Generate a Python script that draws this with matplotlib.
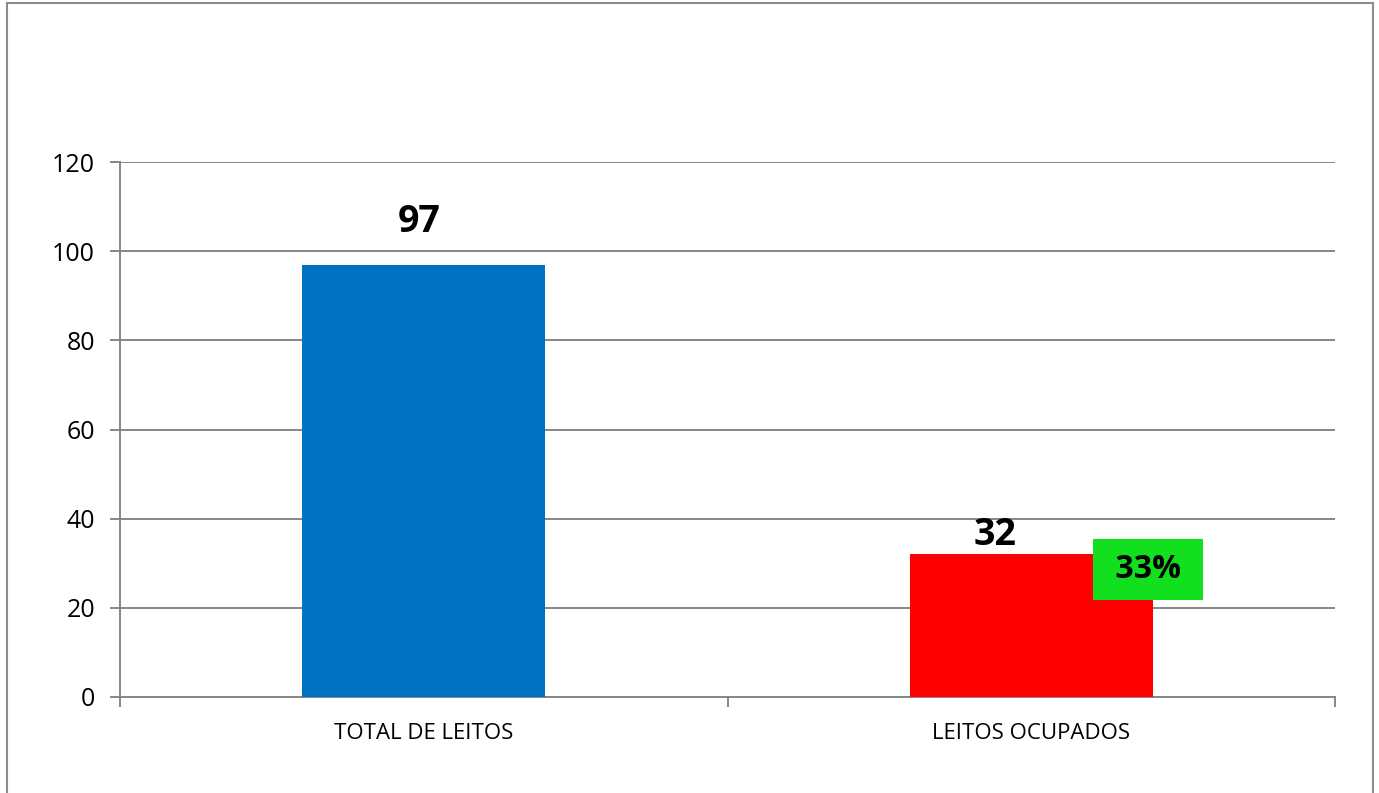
import matplotlib
matplotlib.use("Agg")
import matplotlib.pyplot as plt
from matplotlib.patches import Rectangle

# data
categories = ["TOTAL DE LEITOS", "LEITOS OCUPADOS"]
values = [97, 32]
bar_colors = ["#0070C0", "#FF0000"]
pct_label = "33%"
y_ticks = [0, 20, 40, 60, 80, 100, 120]

plt.rcParams["font.family"] = ["Open Sans", "DejaVu Sans"]

W, H = 1379, 793
fig = plt.figure(figsize=(W / 100, H / 100), dpi=100)
ax = fig.add_axes([120 / W, 1 - 697 / H, (1335 - 120) / W, (697 - 162) / H])

grid_c = "#868686"
x = list(range(len(categories)))
bars = ax.bar(x, values, width=0.4, color=bar_colors, zorder=3)

ax.set_xlim(-0.5, len(categories) - 0.5)
ax.set_ylim(0, 120)
ax.set_yticks(y_ticks)
ax.yaxis.grid(True, color=grid_c, linewidth=1.4, zorder=0)
ax.set_xticks(x)
ax.set_xticklabels(categories, fontsize=16)
ax.set_xticks([i - 0.5 for i in range(len(categories) + 1)], minor=True)
ax.tick_params(axis="x", which="major", length=0, pad=19)
ax.tick_params(axis="x", which="minor", length=7, width=1.4, color=grid_c)
ax.tick_params(axis="y", length=7, width=1.4, color=grid_c, labelsize=18, pad=11)

for s in ["top", "right"]:
    ax.spines[s].set_visible(False)
for s in ["left", "bottom"]:
    ax.spines[s].set_color(grid_c)
    ax.spines[s].set_linewidth(1.4)

# value labels (offsets in pixels to match original placement)
offsets = [(-5, 43), (-36, 19)]
for b, v, (dx, dy) in zip(bars, values, offsets):
    ax.annotate(str(v), (b.get_x() + b.get_width() / 2, v),
                xytext=(dx * 0.72, dy * 0.72), textcoords="offset points",
                ha="center", va="center", fontsize=27, fontweight="bold")

# percent badge next to the occupied bar
b = bars[1]
ax.annotate(" " + pct_label + " ", (b.get_x() + b.get_width(), values[1]),
            xytext=(-5 * 0.72, -15 * 0.72), textcoords="offset points",
            ha="center", va="center", fontsize=23, fontweight="bold", zorder=5,
            bbox=dict(boxstyle="square,pad=0.44", facecolor="#12DF1E", edgecolor="none"))

# outer border
fig.patches.append(Rectangle((7 / W, -0.05), (1373 - 7) / W, 1.05 - 3 / H,
                             transform=fig.transFigure, fill=False,
                             edgecolor="#8C8C8C", linewidth=1.5))

fig.savefig("out.png", dpi=100)
